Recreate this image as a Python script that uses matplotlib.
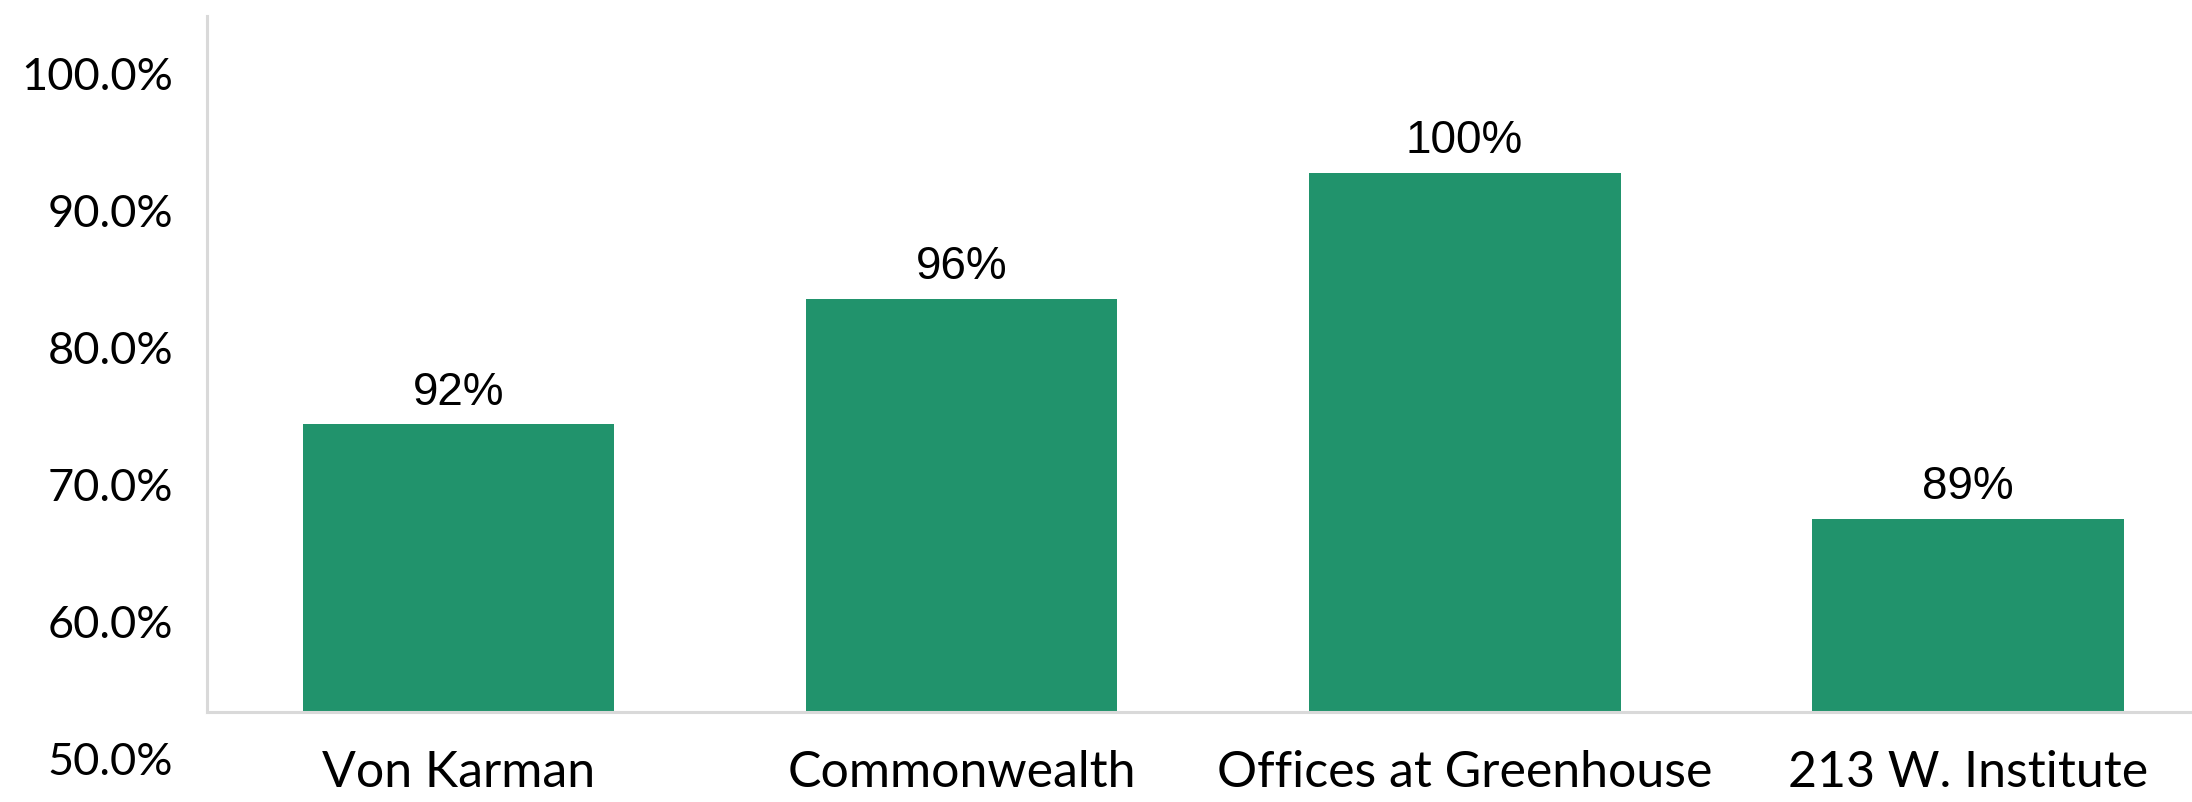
import numpy as np
import matplotlib
matplotlib.use('Agg')
import matplotlib.pyplot as plt
import matplotlib.transforms as mtransforms

# occupancy by property
edificios = ['Von Karman', 'Commonwealth', 'Offices at Greenhouse', '213 W. Institute']
ocupacion = [92, 96, 100, 89]
etiquetas_y = ['50.0%', '60.0%', '70.0%', '80.0%', '90.0%', '100.0%']

verde = '#21936C'
gris = '#D9D9D9'

fig = plt.figure(figsize=(21.92, 8.03), dpi=100)
ax = fig.add_axes([0.0944, 0.1121, 0.9056, 0.8667])

x = np.arange(len(edificios))
ax.bar(x, ocupacion, width=0.62, color=verde, zorder=2)

ax.set_xlim(-0.5, 3.446)
ax.set_ylim(82.87, 104.97)

for xi, v in zip(x, ocupacion):
    ax.annotate('{}%'.format(v), (xi, v), xytext=(0, 15), textcoords='offset points',
                ha='center', va='baseline', fontsize=33, family='Liberation Sans', color='black')

ax.set_xticks(x)
ax.set_xticklabels(edificios, fontsize=36, family='Lato')
ax.tick_params(axis='x', length=0, pad=27)
ax.set_yticks([])

# y labels (scale text on the left side)
trans = mtransforms.blended_transform_factory(ax.transAxes, ax.transData)
for i, lab in enumerate(etiquetas_y):
    yv = 81.30 + i * 4.35
    ax.text(-0.0171, yv, lab, transform=trans, ha='right', va='center',
            fontsize=32.5, family='Lato', color='black', clip_on=False)

for s in ['top', 'right']:
    ax.spines[s].set_visible(False)
for s in ['left', 'bottom']:
    ax.spines[s].set_color(gris)
    ax.spines[s].set_linewidth(2.2)

plt.savefig('out.png', dpi=100)
